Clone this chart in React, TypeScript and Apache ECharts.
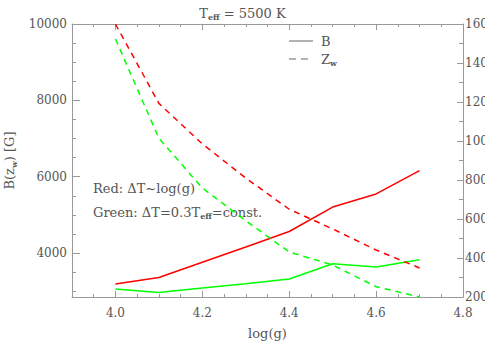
import React, { useEffect, useRef } from "react";
import * as echarts from "echarts";

const logg = [4.0, 4.1, 4.2, 4.3, 4.4, 4.5, 4.6, 4.7];
const bRed = [3190, 3360, 3760, 4160, 4565, 5205, 5550, 6160];
const bGreen = [3060, 2970, 3085, 3200, 3320, 3720, 3635, 3825];
const zRed = [1600, 1193, 985, 810, 650, 549, 441, 349];
const zGreen = [1523, 1014, 759, 591, 431, 364, 253, 200];

const xMajor = [4.0, 4.2, 4.4, 4.6, 4.8];
const xMinor = [3.95, 4.0, 4.05, 4.1, 4.15, 4.2, 4.25, 4.3, 4.35, 4.4, 4.45, 4.5, 4.55, 4.6, 4.65, 4.7, 4.75];
const yLeftMajor = [4000, 6000, 8000, 10000];
const yLeftMinor = [3000, 3500, 4500, 5000, 5500, 6500, 7000, 7500, 8500, 9000, 9500];

const FONT = "DejaVu Serif";
const TXT = "#555";
const AX = "#999";

export default function App() {
  const ref = useRef<HTMLDivElement>(null);
  useEffect(() => {
    if (!ref.current) return;
    const chart = echarts.init(ref.current, null, { renderer: "svg" });
    const pair = (ys: number[]) => logg.map((x, i) => [x, ys[i]]);
    const xBase = {
      type: "value",
      min: 3.9,
      max: 4.8,
      splitLine: { show: false },
    };
    const yLeftBase = {
      type: "value",
      min: 2850,
      max: 10000,
      position: "left",
      splitLine: { show: false },
    };
    const sub = { fontFamily: FONT, fontSize: 8, fontWeight: "bold", color: TXT, verticalAlign: "bottom", padding: [8, 0, 0, 0] };
    chart.setOption({
      animation: false,
      backgroundColor: "#fff",
      title: {
        text: "T{sub|eff} = 5500 K",
        left: "center",
        top: 0,
        textStyle: {
          fontFamily: FONT,
          fontSize: 13,
          fontWeight: "normal",
          color: TXT,
          rich: { sub },
        },
      },
      grid: { left: 72, right: 22, top: 24, bottom: 49, containLabel: false, outerBoundsMode: "none" },
      xAxis: [
        {
          ...xBase,
          position: "bottom",
          axisLine: { onZero: false, lineStyle: { color: AX, width: 1 } },
          axisTick: { inside: true, length: 6, customValues: xMajor, lineStyle: { color: AX } },
          axisLabel: {
            customValues: xMajor,
            formatter: (v: number) => v.toFixed(1),
            margin: 10,
            color: TXT,
            fontFamily: FONT,
            fontSize: 12,
          },
          name: "log(g)",
          nameLocation: "middle",
          nameGap: 30,
          nameTextStyle: { color: TXT, fontFamily: FONT, fontSize: 13 },
        },
        {
          ...xBase,
          position: "bottom",
          axisLine: { show: false, onZero: false },
          axisTick: { inside: true, length: 3, customValues: xMinor, lineStyle: { color: AX } },
          axisLabel: { show: false },
        },
        {
          ...xBase,
          position: "top",
          axisLine: { onZero: false, lineStyle: { color: AX, width: 1 } },
          axisTick: { inside: true, length: 6, customValues: xMajor, lineStyle: { color: AX } },
          axisLabel: { show: false },
        },
        {
          ...xBase,
          position: "top",
          axisLine: { show: false, onZero: false },
          axisTick: { inside: true, length: 3, customValues: xMinor, lineStyle: { color: AX } },
          axisLabel: { show: false },
        },
      ],
      yAxis: [
        {
          ...yLeftBase,
          axisLine: { show: true, onZero: false, lineStyle: { color: AX, width: 1 } },
          axisTick: { show: true, inside: true, length: 8, customValues: yLeftMajor, lineStyle: { color: AX } },
          axisLabel: {
            customValues: yLeftMajor,
            formatter: (v: number) => String(Math.round(v)),
            margin: 5,
            color: TXT,
            fontFamily: FONT,
            fontSize: 12,
          },
          name: "B(z{sub|w}) [G]",
          nameLocation: "middle",
          nameGap: 50,
          nameRotate: 90,
          nameTextStyle: {
            color: TXT,
            fontFamily: FONT,
            fontSize: 13,
            rich: { sub },
          },
        },
        {
          type: "value",
          min: 200,
          max: 1600,
          interval: 200,
          position: "right",
          splitLine: { show: false },
          axisLine: { show: true, onZero: false, lineStyle: { color: AX, width: 1 } },
          axisTick: { show: true, inside: true, length: 6, lineStyle: { color: AX } },
          minorTick: { show: true, splitNumber: 2, length: 4, lineStyle: { color: AX } },
          axisLabel: {
            formatter: (v: number) => String(Math.round(v)),
            margin: 2,
            color: TXT,
            fontFamily: FONT,
            fontSize: 12,
          },
        },
        {
          ...yLeftBase,
          axisLine: { show: false, onZero: false },
          axisTick: { show: true, inside: true, length: 4, customValues: yLeftMinor, lineStyle: { color: AX } },
          axisLabel: { show: false },
        },
      ],
      graphic: [
        { type: "line", shape: { x1: 289, y1: 41, x2: 313, y2: 41 }, style: { stroke: "#666", lineWidth: 1 } },
        { type: "text", x: 321, y: 41, style: { text: "B", fill: TXT, font: `13px "${FONT}"`, verticalAlign: "middle" } },
        { type: "line", shape: { x1: 289, y1: 59, x2: 313, y2: 59 }, style: { stroke: "#666", lineWidth: 1, lineDash: [7, 5] } },
        {
          type: "text",
          x: 321,
          y: 59,
          style: {
            text: "Z{sub|w}",
            fill: TXT,
            font: `13px "${FONT}"`,
            verticalAlign: "middle",
            rich: { sub: { ...sub, fill: TXT } },
          },
        },
        { type: "text", x: 93, y: 188, style: { text: "Red: ΔT~log(g)", fill: TXT, font: `13px "${FONT}"`, verticalAlign: "middle" } },
        {
          type: "text",
          x: 93,
          y: 212,
          style: {
            text: "Green: ΔT=0.3T{sub|eff}=const.",
            fill: TXT,
            font: `13px "${FONT}"`,
            verticalAlign: "middle",
            rich: { sub: { ...sub, fill: TXT } },
          },
        },
      ],
      series: [
        { name: "B red", type: "line", xAxisIndex: 0, yAxisIndex: 0, data: pair(bRed), showSymbol: false, lineStyle: { color: "#ff0000", width: 1.5 } },
        { name: "B green", type: "line", xAxisIndex: 0, yAxisIndex: 0, data: pair(bGreen), showSymbol: false, lineStyle: { color: "#00ff00", width: 1.5 } },
        { name: "Zw red", type: "line", xAxisIndex: 0, yAxisIndex: 1, data: pair(zRed), showSymbol: false, lineStyle: { color: "#ff0000", width: 1.5, type: [6, 5] } },
        { name: "Zw green", type: "line", xAxisIndex: 0, yAxisIndex: 1, data: pair(zGreen), showSymbol: false, lineStyle: { color: "#00ff00", width: 1.5, type: [6, 5] } },
      ],
    });
    return () => chart.dispose();
  }, []);
  return <div ref={ref} style={{ position: "fixed", left: 0, top: 0, width: 485, height: 346 }} />;
}
